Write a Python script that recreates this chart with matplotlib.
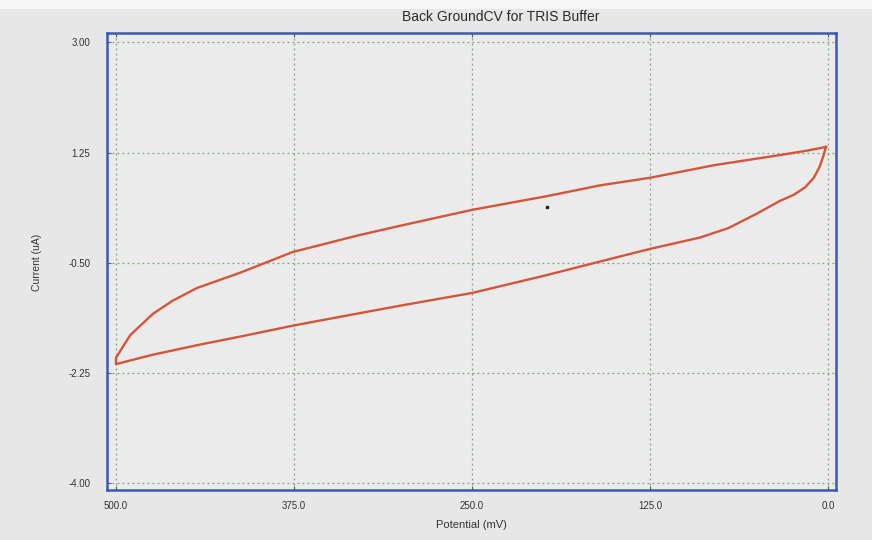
import matplotlib.pyplot as plt
from matplotlib.patches import Rectangle

plt.rcParams['font.family'] = ['Liberation Sans', 'DejaVu Sans']

# reverse sweep: 0 mV -> 500 mV (lower branch)
pot_rev = [1.4, 3.5, 6, 10, 16, 24, 34, 50, 70, 90, 125, 160, 200, 250, 300, 343, 376, 410, 441, 474, 500]
cur_rev = [1.34, 1.18, 1.02, 0.85, 0.70, 0.58, 0.48, 0.28, 0.05, -0.10, -0.28, -0.48, -0.71, -0.98,
           -1.18, -1.36, -1.50, -1.66, -1.80, -1.96, -2.11]

# forward sweep: 500 mV -> 0 mV (upper branch)
pot_fwd = [500, 490, 474, 460, 443, 413, 376, 343, 329, 300, 250, 197, 160, 125, 80, 34, 15, 1.4]
cur_fwd = [-2.01, -1.65, -1.31, -1.10, -0.90, -0.66, -0.33, -0.14, -0.06, 0.09, 0.34, 0.56, 0.73,
           0.85, 1.05, 1.21, 1.28, 1.34]

stray_pt = (197.3, 0.39)

x_ticks = [500.0, 375.0, 250.0, 125.0, 0.0]
y_ticks = [3.00, 1.25, -0.50, -2.25, -4.00]

bg = '#e7e7e7'
fig = plt.figure(figsize=(8.72, 5.4), dpi=100, facecolor=bg)
fig.patches.append(Rectangle((0, 0.983), 1, 0.017, transform=fig.transFigure,
                             facecolor='#f6f6f6', edgecolor='none', zorder=0))
ax = fig.add_axes([0.1227, 0.0926, 0.8360, 0.8463])
ax.set_facecolor('#ebebeb')

ax.plot(pot_rev + pot_fwd, cur_rev + cur_fwd, color='#d5553a', lw=1.7, solid_joinstyle='round')
ax.plot([stray_pt[0]], [stray_pt[1]], 's', color='#222222', ms=1.5)

ax.set_xlim(506.3, -5.6)
ax.set_ylim(-4.11, 3.15)
ax.set_xticks(x_ticks)
ax.set_xticklabels(['%.1f' % v for v in x_ticks])
ax.set_yticks(y_ticks)
ax.set_yticklabels(['%.2f' % v for v in y_ticks])

ax.grid(True, color='#7fa27f', linestyle=(0, (1.5, 2.5)), lw=0.9)
for s in ax.spines.values():
    s.set_color('#3d58b0')
    s.set_linewidth(1.8)

ax.tick_params(axis='both', direction='in', length=3, width=0.8, color='#555577',
               labelsize=7, labelcolor='#333333', top=True)
ax.tick_params(axis='y', pad=12)
ax.tick_params(axis='x', pad=8)

fig.text(501 / 872, 1 - 17 / 540, 'Back GroundCV for TRIS Buffer', ha='center', va='center',
         fontsize=10, color='#2a2a2a')
fig.text(471 / 872, 1 - 525 / 540, 'Potential (mV)', ha='center', va='center',
         fontsize=8, color='#333333')
fig.text(37 / 872, 1 - 262 / 540, 'Current (uA)', ha='center', va='center', rotation=90,
         fontsize=7.5, color='#333333')

fig.savefig('out.png', dpi=100, facecolor=bg)
